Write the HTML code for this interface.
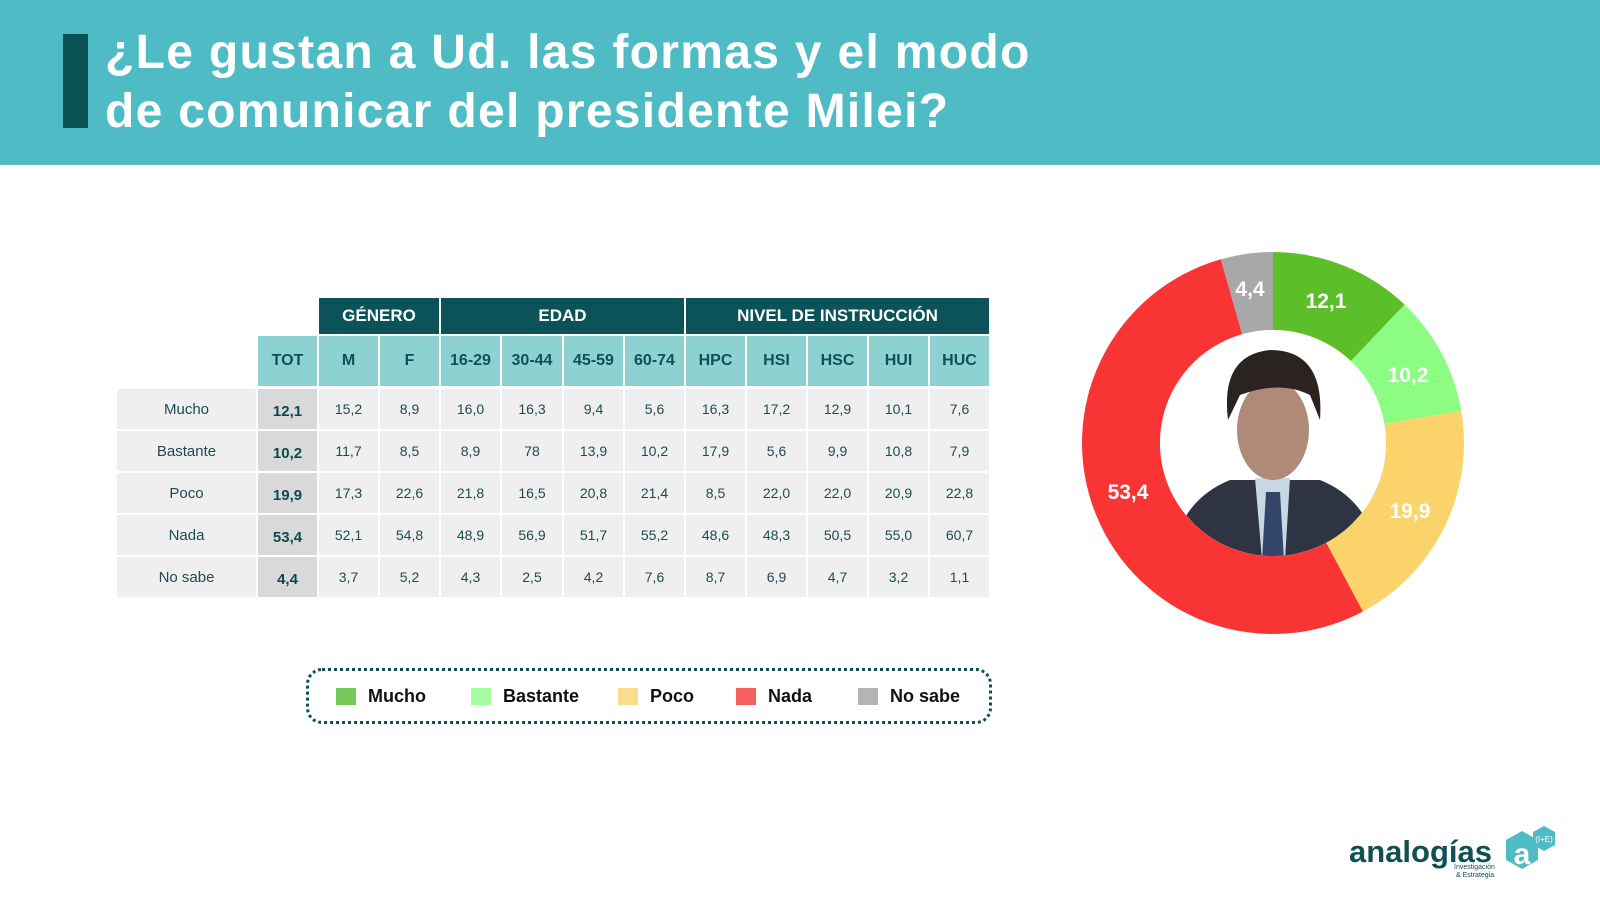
<!DOCTYPE html>
<html><head><meta charset="utf-8"><style>
body{margin:0;width:1600px;height:909px;background:#fff;position:relative;overflow:hidden;font-family:"Liberation Sans",sans-serif}
.hdr{position:absolute;left:0;top:0;width:1600px;height:165px;background:#4fbcc5}
.bar{position:absolute;left:63px;top:34px;width:25px;height:94px;background:#0b5055}
.t{position:absolute;left:105px;color:#fff;font-weight:bold;font-size:48px;letter-spacing:1.3px;line-height:58px;white-space:nowrap}
.c{position:absolute;display:flex;align-items:center;justify-content:center;box-sizing:border-box}
.h1{background:#0b5259;color:#fff;font-weight:bold;font-size:17px}
.h2{background:#8ed1d1;color:#0b5259;font-weight:bold;font-size:16px}
.d{background:#efefef;color:#1f4a4f;font-size:14px}
.tot{background:#d9d9d9;color:#0b4a50;font-weight:bold;font-size:15px;padding-top:5px}
.lab{background:#efefef;color:#1f4a4f;font-size:15px}
.leg{position:absolute;left:306px;top:668px;width:686px;height:56px;border:3px dotted #0b5055;border-radius:16px;box-sizing:border-box}
.li{position:absolute;top:686px;font-weight:bold;font-size:18px;color:#111;display:flex;align-items:center}
.li span{display:inline-block;width:20px;height:17px;margin-right:12px}
</style></head><body>
<div class="hdr"></div><div class="bar"></div>
<div class="t" style="top:24px">¿Le gustan a Ud. las formas y el modo</div>
<div class="t" style="top:83px">de comunicar del presidente Milei?</div>
<div id="tbl"></div>
<div class="leg"></div>
<div class="li" style="left:336px"><span style="background:#74c95a"></span>Mucho</div>
<div class="li" style="left:471px"><span style="background:#a6fca0"></span>Bastante</div>
<div class="li" style="left:618px"><span style="background:#fbdc8a"></span>Poco</div>
<div class="li" style="left:736px"><span style="background:#f66060"></span>Nada</div>
<div class="li" style="left:858px"><span style="background:#b4b4b4"></span>No sabe</div>
<svg style="position:absolute;left:0;top:0" width="1600" height="909">
<defs><clipPath id="cc"><circle cx="1273" cy="443" r="113"/></clipPath></defs>
<g id="donut"></g>
<g clip-path="url(#cc)">
<rect x="1160" y="330" width="230" height="230" fill="#fff"/>
<path d="M1170 560 Q1180 500 1230 480 L1320 480 Q1370 500 1380 560Z" fill="#2f3442"/>
<path d="M1255 478 L1290 478 L1285 560 L1262 560Z" fill="#c8d6e6"/>
<path d="M1266 492 L1280 492 L1284 560 L1262 560Z" fill="#33466a"/>
<ellipse cx="1273" cy="430" rx="36" ry="50" fill="#b08a78"/>
<path d="M1228 420 Q1220 355 1270 350 Q1325 350 1320 420 L1310 395 Q1280 380 1240 395Z" fill="#2a2320"/>
</g>
<g font-family="Liberation Sans" font-weight="bold" font-size="21" fill="#fff" text-anchor="middle">
<text x="1250" y="296">4,4</text><text x="1326" y="308">12,1</text><text x="1408" y="382">10,2</text>
<text x="1410" y="518">19,9</text><text x="1128" y="499">53,4</text></g>
<text x="1349" y="862" font-family="Liberation Sans" font-weight="bold" font-size="31" fill="#0f5055">analogías</text>
<text x="1454" y="869" font-family="Liberation Sans" font-size="7" fill="#0f5055">Investigación</text>
<text x="1456" y="877" font-family="Liberation Sans" font-size="7" fill="#0f5055">&amp; Estrategia</text>
<polygon points="1522,831 1538,840 1538,860 1522,869 1506,860 1506,840" fill="#4fbcc5"/>
<polygon points="1544,826 1555,832 1555,845 1544,851 1533,845 1533,832" fill="#4fbcc5"/>
<text x="1522" y="864" font-family="Liberation Sans" font-weight="bold" font-size="30" fill="#fff" text-anchor="middle">a</text>
<text x="1544" y="842" font-family="Liberation Sans" font-size="8" fill="#fff" text-anchor="middle">(I+E)</text>
</svg>
<script>
var cx=1273,cy=443,R=191,r=113,vals=[[12.1,'#5cbf2a'],[10.2,'#8cfc82'],[19.9,'#fad46a'],[53.4,'#f93434'],[4.4,'#a8a8a8']];
var a=0,s='';function p(rr,an){return [cx+rr*Math.sin(an),cy-rr*Math.cos(an)]}
vals.forEach(function(v){var b=a+v[0]/100*2*Math.PI,l=(b-a)>Math.PI?1:0;var p1=p(R,a),p2=p(R,b),p3=p(r,b),p4=p(r,a);
s+='<path fill="'+v[1]+'" d="M'+p1+' A'+R+' '+R+' 0 '+l+' 1 '+p2+' L'+p3+' A'+r+' '+r+' 0 '+l+' 0 '+p4+'Z"/>';a=b});
document.getElementById('donut').innerHTML=s;
var xs=[];for(var k=0;k<13;k++)xs.push(Math.round(258+k*61.1));
var h='';function c(x,y,w,hh,cl,t){h+='<div class="c '+cl+'" style="left:'+x+'px;top:'+y+'px;width:'+w+'px;height:'+hh+'px">'+t+'</div>'}
c(xs[1],298,xs[3]-xs[1]-2,36,'h1','GÉNERO');c(xs[3],298,xs[7]-xs[3]-2,36,'h1','EDAD');c(xs[7],298,xs[12]-xs[7]-2,36,'h1','NIVEL DE INSTRUCCIÓN');
var hd=['TOT','M','F','16-29','30-44','45-59','60-74','HPC','HSI','HSC','HUI','HUC'];
hd.forEach(function(t,i){c(xs[i],336,xs[i+1]-xs[i]-2,50,'h2',t)});
var rows=[['Mucho','12,1','15,2','8,9','16,0','16,3','9,4','5,6','16,3','17,2','12,9','10,1','7,6'],
['Bastante','10,2','11,7','8,5','8,9','78','13,9','10,2','17,9','5,6','9,9','10,8','7,9'],
['Poco','19,9','17,3','22,6','21,8','16,5','20,8','21,4','8,5','22,0','22,0','20,9','22,8'],
['Nada','53,4','52,1','54,8','48,9','56,9','51,7','55,2','48,6','48,3','50,5','55,0','60,7'],
['No sabe','4,4','3,7','5,2','4,3','2,5','4,2','7,6','8,7','6,9','4,7','3,2','1,1']];
rows.forEach(function(rw,j){var y=389+j*42;c(117,y,139,40,'lab',rw[0]);
for(var i=1;i<rw.length;i++)c(xs[i-1],y,xs[i]-xs[i-1]-2,40,i==1?'tot':'d',rw[i])});
document.getElementById('tbl').innerHTML=h;
</script>
</body></html>
